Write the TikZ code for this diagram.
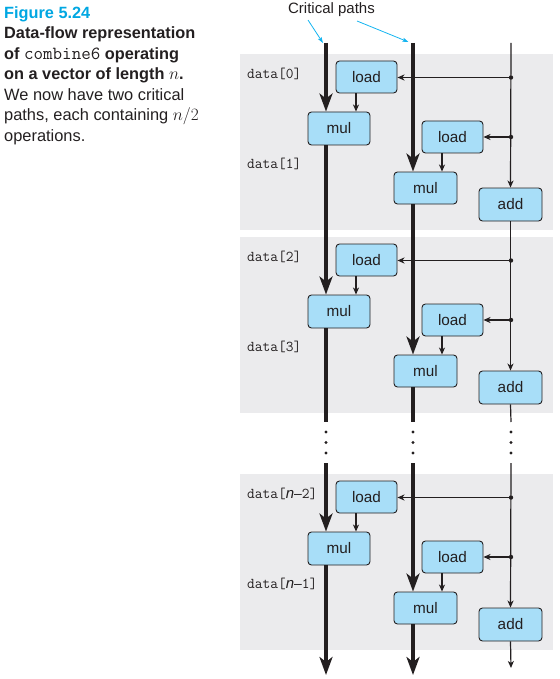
\documentclass[tikz,border=0pt]{standalone}
\usepackage{fontspec}
\setmainfont{Liberation Sans}
\usetikzlibrary{arrows.meta}
\definecolor{panelgray}{RGB}{235,235,237}
\definecolor{boxblue}{RGB}{168,222,248}
\definecolor{figcyan}{RGB}{0,167,226}
\definecolor{arrcyan}{RGB}{20,180,240}
\definecolor{ink}{RGB}{35,31,32}
\begin{document}
\begin{tikzpicture}[x=1pt,y=-1pt,
  op/.style={draw=ink, line width=0.9pt, fill=boxblue, rounded corners=3.5pt,
    minimum height=32pt, inner sep=0pt, text=ink, font=\fontsize{15.3}{15}\selectfont},
  lab/.style={anchor=base west, inner sep=0pt, text=ink, font=\ttfamily\fontsize{15}{15}\selectfont},
  captxt/.style={anchor=base west, inner sep=0pt, text=ink, font=\fontsize{16.4}{20}\selectfont},
  captbold/.style={captxt, font=\fontsize{16.3}{20}\selectfont\bfseries},
  thinln/.style={draw=ink, line width=1.2pt},
  thinarr/.style={thinln, -{Stealth[length=7pt,width=6pt,inset=2pt]}},
  thickln/.style={draw=ink, line width=4pt},
  thickarr/.style={thickln, -{Stealth[length=18pt,width=13pt,inset=5pt]}},
  cyanarr/.style={draw=arrcyan, line width=0.8pt, -{Stealth[length=6pt,width=4pt,inset=1pt]}}
]
\useasboundingbox (0,0) rectangle (559,679);

% caption
\node[captbold, text=figcyan] (c0) at (4,18.3) {Figure 5.24};
\node[captbold] (c1) at (4,38.8) {Data-flow representation};
\node[captbold] (c2) at (4,59.3) {of {\ttfamily\mdseries\fontsize{18.5}{20}\selectfont combine6} operating};
\node[captbold] (c3) at (4,79.8) {on a vector of length $n$.};
\node[captxt] (c4) at (4,100.3) {We now have two critical};
\node[captxt] (c5) at (4,120.8) {paths, each containing $n/2$};
\node[captxt] (c6) at (4,141.3) {operations.};

% critical paths label
\node[anchor=base, inner sep=0pt, text=ink, font=\fontsize{15}{15}\selectfont] (crit) at (331.5,14) {Critical paths};
\coordinate (ca) at (308,20);
\coordinate (cae) at (323,43);
\coordinate (cb) at (357,21);
\coordinate (cbe) at (408.5,42);
\draw[cyanarr] (ca) -- (cae);
\draw[cyanarr] (cb) -- (cbe);

% panels, boxes, load arrows
\foreach \o/\k in {0/a,183/b,420/c}{
  \fill[panelgray] (240,{54+\o}) rectangle (553,{230+\o});
  \node[op, minimum width=61pt] (La\k) at (366.5,{77+\o}) {load};
  \node[op, minimum width=62pt, minimum height=33pt] (Ma\k) at (339,{128.5+\o}) {mul};
  \node[op, minimum width=61pt] (Lb\k) at (452.5,{137+\o}) {load};
  \node[op, minimum width=63pt] (Mb\k) at (425.5,{188+\o}) {mul};
  \node[op, minimum width=63pt, minimum height=33pt] (A\k) at (510.5,{204.5+\o}) {add};
  \coordinate (Da\k) at (511,{77.5+\o});
  \coordinate (Db\k) at (511,{137+\o});
  \draw[thinarr] (Da\k) -- (La\k.east |- Da\k);
  \draw[thinarr] (Db\k) -- (Lb\k.east |- Db\k);
  \fill[ink] (Da\k) circle (2.2);
  \fill[ink] (Db\k) circle (2.2);
  \draw[thinarr] ([xshift=-10.5pt]La\k.south) -- ([xshift=-10.5pt]La\k.south |- Ma\k.north);
  \draw[thinarr] ([xshift=-10.5pt]Lb\k.south) -- ([xshift=-10.5pt]Lb\k.south |- Mb\k.north);
}

% data labels
\node[lab] (d0) at (247,78.5) {data[0]};
\node[lab] (d1) at (247,168.5) {data[1]};
\node[lab] (d2) at (247,261.5) {data[2]};
\node[lab] (d3) at (247,351.5) {data[3]};
\node[lab] (d4) at (247,498.5) {data[{\rmfamily\itshape n}{\rmfamily\fontsize{14}{15}\selectfont –}2]};
\node[lab] (d5) at (247,588.5) {data[{\rmfamily\itshape n}{\rmfamily\fontsize{14}{15}\selectfont –}1]};

% column coordinates
\coordinate (T1) at (326,43);
\coordinate (T2) at (413,43);
\coordinate (T3) at (511,43);
\coordinate (G1) at (326,422);
\coordinate (G2) at (413,422);
\coordinate (G3) at (511,422);
\coordinate (H1) at (326,463);
\coordinate (H2) at (413,463);
\coordinate (H3) at (511,463);
\coordinate (B1) at (326,675);
\coordinate (B2) at (413,675);
\coordinate (B3) at (511,668);

% critical path 1
\draw[thickarr] (T1) -- (T1 |- Maa.north);
\draw[thickarr] (T1 |- Maa.south) -- (T1 |- Mab.north);
\draw[thickln] (T1 |- Mab.south) -- (G1);
\draw[thickarr] (H1) -- (T1 |- Mac.north);
\draw[thickarr] (T1 |- Mac.south) -- (B1);

% critical path 2
\draw[thickarr] (T2) -- (T2 |- Mba.north);
\draw[thickarr] (T2 |- Mba.south) -- (T2 |- Mbb.north);
\draw[thickln] (T2 |- Mbb.south) -- (G2);
\draw[thickarr] (H2) -- (T2 |- Mbc.north);
\draw[thickarr] (T2 |- Mbc.south) -- (B2);

% index path
\draw[thinarr] (T3) -- (Aa.north);
\draw[thinarr] (Aa.south) -- (Ab.north);
\draw[thinln] (Ab.south) -- (G3);
\draw[thinarr] (H3) -- (Ac.north);
\draw[thinarr] (Ac.south) -- (B3);

% ellipsis dots
\foreach \x in {326,413,511}{
  \foreach \y in {432,442.5,453}{
    \fill[ink] (\x,\y) circle (1.7);
  }
}
\end{tikzpicture}
\end{document}
